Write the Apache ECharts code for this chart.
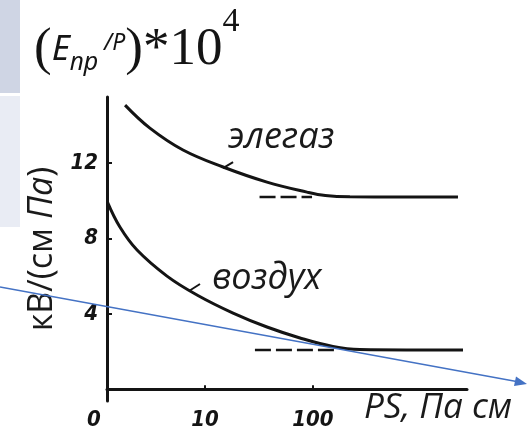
<!DOCTYPE html>
<html>
<head>
<meta charset="utf-8">
<script src="https://cdn.jsdelivr.net/npm/echarts@6/dist/echarts.min.js"></script>
<style>
  html, body { margin: 0; padding: 0; background: #fff; }
  #chart { width: 527px; height: 441px; }
</style>
</head>
<body>
<div id="chart"></div>
<script>
// данные (PS в Па·см, E/P * 10^4 в кВ/(см·Па))
var sf6PS = [1.82, 3.09, 6.26, 14.7, 37.5, 88, 130, 220, 640, 2200]
var sf6E = [15.06, 13.84, 12.68, 11.78, 10.98, 10.45, 10.27, 10.2, 10.19, 10.19]
var airPS = [1.25, 1.63, 2.35, 4.45, 8.43, 18.2, 37.5, 75.8, 153, 272, 2450]
var airE = [9.92, 8.6, 7.38, 6.0, 5.0, 4.04, 3.3, 2.72, 2.27, 2.11, 2.08]
// асимптоты (штрих)
var sf6AsymPS = [32, 98]
var sf6Asym = 10.19
var airAsymPS = [29, 166]
var airAsym = 2.08
// выноски к подписям
var sf6LeaderPS = [14.7, 18.2]
var sf6LeaderE = [11.72, 12.04]
var airLeaderPS = [7.11, 8.99]
var airLeaderE = [5.21, 5.58]
// подписи осей
var xTickValues = [10, 100]
var xLabelValues = [1.238, 10, 100]
var yTickValues = [4, 8, 12]

function pairs(xs, ys) {
  return xs.map(function (x, i) { return [x, ys[i]] })
}

var ink = '#141414'
var tickFont = '"DejaVu Sans Condensed", "DejaVu Sans", sans-serif'
var myChart = echarts.init(document.getElementById('chart'))

var option = {
  animation: false,
  backgroundColor: '#fff',
  title: {
    left: 34,
    top: 20,
    padding: 0,
    text: '{b|(}{e|E}{s|пр}{sl| /P}{b|)*10}{sup|4}',
    textStyle: {
      fontWeight: 'normal',
      rich: {
        b: { fontFamily: 'Liberation Serif', fontWeight: 'normal', fontSize: 53, color: ink, lineHeight: 60 },
        e: { fontFamily: 'Noto Sans', fontWeight: 'normal', fontStyle: 'italic', fontSize: 35, color: ink, lineHeight: 60 },
        s: { fontFamily: 'Noto Sans', fontWeight: 'normal', fontStyle: 'italic', fontSize: 25, color: ink, lineHeight: 60, padding: [26, 0, 0, 0] },
        sl: { fontFamily: 'Noto Sans', fontWeight: 'normal', fontStyle: 'italic', fontSize: 23, color: ink, lineHeight: 60, padding: [0, 0, 14, 0] },
        sup: { fontFamily: 'Liberation Serif', fontWeight: 'normal', fontSize: 34, color: ink, lineHeight: 60, padding: [0, 0, 56, 0] }
      }
    }
  },
  grid: { left: 107, right: 60, top: 97, bottom: 40 },
  xAxis: {
    type: 'log',
    logBase: 10,
    min: 1.238,
    max: 2667,
    name: 'PS, Па см',
    nameLocation: 'end',
    nameGap: 45,
    nameTextStyle: {
      fontFamily: 'Open Sans', fontStyle: 'italic', fontSize: 35, color: '#1a1a1a',
      align: 'right', verticalAlign: 'top', padding: [1, 0, 0, 0]
    },
    axisLine: { lineStyle: { color: ink, width: 3 } },
    axisTick: { customValues: xTickValues, inside: true, length: 4, lineStyle: { color: ink, width: 2 } },
    minorTick: { show: false },
    splitLine: { show: false },
    axisLabel: {
      customValues: xLabelValues,
      margin: 8,
      fontFamily: tickFont, fontStyle: 'italic', fontWeight: 'bold', fontSize: 22, color: ink,
      formatter: function (v) { return v < 2 ? '{z|0}' : String(Math.round(v)) },
      rich: { z: { fontFamily: tickFont, fontStyle: 'italic', fontWeight: 'bold', fontSize: 22, color: ink, padding: [0, 26, 0, 0] } }
    }
  },
  yAxis: {
    type: 'value',
    min: -0.62,
    max: 15.49,
    name: '{r|кВ/(см }{i|Па}{r|)}',
    nameLocation: 'middle',
    nameRotate: 90,
    nameGap: 43,
    nameTextStyle: {
      rich: {
        r: { fontFamily: 'Open Sans', fontSize: 34, color: '#1a1a1a' },
        i: { fontFamily: 'Open Sans', fontStyle: 'italic', fontSize: 34, color: '#1a1a1a' }
      }
    },
    axisLine: { show: true, lineStyle: { color: ink, width: 3 } },
    axisTick: { show: true, customValues: yTickValues, inside: true, length: 5, lineStyle: { color: ink, width: 2 } },
    splitLine: { show: false },
    axisLabel: {
      customValues: yTickValues,
      margin: 9,
      fontFamily: tickFont, fontStyle: 'italic', fontWeight: 'bold', fontSize: 22, color: ink
    }
  },
  series: [
    {
      name: 'элегаз', type: 'line', smooth: 0.4, symbol: 'none',
      lineStyle: { color: ink, width: 3 }, data: pairs(sf6PS, sf6E)
    },
    {
      name: 'воздух', type: 'line', smooth: 0.4, symbol: 'none',
      lineStyle: { color: ink, width: 3 }, data: pairs(airPS, airE)
    },
    {
      type: 'line', symbol: 'none', lineStyle: { color: ink, width: 2.5, type: [16, 5] },
      data: pairs(sf6AsymPS, [sf6Asym, sf6Asym])
    },
    {
      type: 'line', symbol: 'none', lineStyle: { color: ink, width: 2.5, type: [16, 5] },
      data: pairs(airAsymPS, [airAsym, airAsym])
    },
    {
      type: 'line', symbol: 'none', lineStyle: { color: ink, width: 2 },
      data: pairs(sf6LeaderPS, sf6LeaderE)
    },
    {
      type: 'line', symbol: 'none', lineStyle: { color: ink, width: 2 },
      data: pairs(airLeaderPS, airLeaderE)
    }
  ],
  graphic: [
    // полоски слайда слева
    { type: 'rect', shape: { x: 0, y: 0, width: 20, height: 93 }, style: { fill: '#cfd5e4' }, z: -10 },
    { type: 'rect', shape: { x: 0, y: 96, width: 20, height: 131 }, style: { fill: '#e9ecf4' }, z: -10 },
    // подписи кривых
    {
      type: 'text', x: 228, y: 138, z: 10,
      style: { text: 'элегаз', fill: '#1a1a1a', font: 'italic 36px "Open Sans"', textVerticalAlign: 'middle' }
    },
    {
      type: 'text', x: 212, y: 279, z: 10,
      style: { text: 'воздух', fill: '#1a1a1a', font: 'italic 36px "Open Sans"', textVerticalAlign: 'middle' }
    },
    // синяя стрелка поверх рисунка
    {
      type: 'line', z: 20, shape: { x1: 0, y1: 287, x2: 522, y2: 382.5 },
      style: { stroke: '#4472c4', lineWidth: 1.5 }
    },
    {
      type: 'polygon', z: 20, shape: { points: [[527, 384], [516, 376.5], [514, 386]] },
      style: { fill: '#4472c4' }
    }
  ]
}

myChart.setOption(option)
window.onresize = function () {
  myChart.resize()
}
</script>
</body>
</html>
